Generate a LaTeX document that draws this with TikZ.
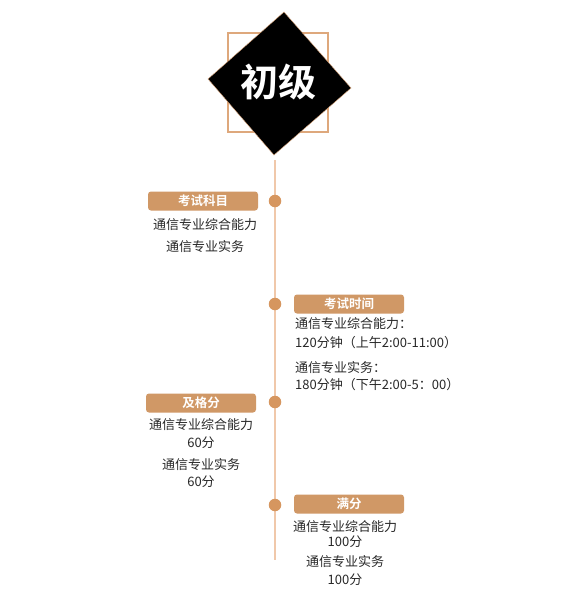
\documentclass[tikz,border=0pt]{standalone}
\usepackage{fontspec}
\setmainfont{Noto Sans CJK SC}
\newfontfamily\cjkbold{Noto Sans CJK SC Bold}
\usetikzlibrary{positioning}
\definecolor{tanline}{RGB}{240,200,170}
\definecolor{tanframe}{RGB}{222,168,124}
\definecolor{tanbox}{RGB}{208,152,102}
\definecolor{tandot}{RGB}{214,150,95}
\definecolor{bodytext}{RGB}{40,40,40}

\begin{document}
\begin{tikzpicture}[
  x=1pt, y=-1pt,
  tagbox/.style={
    fill=tanbox,
    rounded corners=3pt,
    minimum width=110pt,
    minimum height=19pt,
    inner sep=0pt,
    text=white,
    font=\cjkbold\fontsize{12.5}{14}\selectfont
  },
  dotnode/.style={circle, fill=tandot, minimum size=12.5pt, inner sep=0pt},
  txt/.style={text=bodytext, font=\fontsize{13}{16}\selectfont, inner sep=0pt}
]

% canvas
\fill[white] (0,0) rectangle (566,600);

% ========== Title ==========
\draw[tanframe, line width=1.3pt] (228,33) rectangle (328,132);
\coordinate (dia-t) at (284,12);
\coordinate (dia-r) at (351,88);
\coordinate (dia-b) at (274,155);
\coordinate (dia-l) at (208,79);
\draw[tanframe, line width=0.4pt, fill=black] (dia-t) -- (dia-r) -- (dia-b) -- (dia-l) -- cycle;
\node[text=white, font=\cjkbold\fontsize{38}{42}\selectfont] (title) at (278,82) {初级};

% ========== Timeline ==========
\coordinate (line-top) at (275,160);
\coordinate (line-bot) at (275,560);
\draw[tanline, line width=1.2pt] (line-top) -- (line-bot);

\node[dotnode] (dot1) at (275,201) {};
\node[dotnode] (dot2) at (275,304) {};
\node[dotnode] (dot3) at (275,402) {};
\node[dotnode] (dot4) at (275,505) {};

% ========== Subjects ==========
\node[tagbox] (subj) at (203,201) {考试科目};
\node[txt] (subj-a) at (205,225) {通信专业综合能力};
\node[txt] (subj-b) at (205,247) {通信专业实务};

% ========== Exam time ==========
\node[tagbox] (time) at (349,304) {考试时间};
\node[txt, anchor=west] (time-a) at (295,324) {通信专业综合能力：};
\node[txt, anchor=west] (time-b) at (295,343) {120分钟（上午2:00-11:00）};
\node[txt, anchor=west] (time-c) at (295,368) {通信专业实务：};
\node[txt, anchor=west] (time-d) at (295,385) {180分钟（下午2:00-5：00）};

% ========== Passing score ==========
\node[tagbox] (pass) at (201,403) {及格分};
\node[txt] (pass-a) at (201,425) {通信专业综合能力};
\node[txt] (pass-b) at (201,443) {60分};
\node[txt] (pass-c) at (201,465) {通信专业实务};
\node[txt] (pass-d) at (201,482) {60分};

% ========== Full score ==========
\node[tagbox] (full) at (349,504) {满分};
\node[txt] (full-a) at (345,527) {通信专业综合能力};
\node[txt] (full-b) at (345,542) {100分};
\node[txt] (full-c) at (345,562) {通信专业实务};
\node[txt] (full-d) at (345,580) {100分};

\end{tikzpicture}
\end{document}
